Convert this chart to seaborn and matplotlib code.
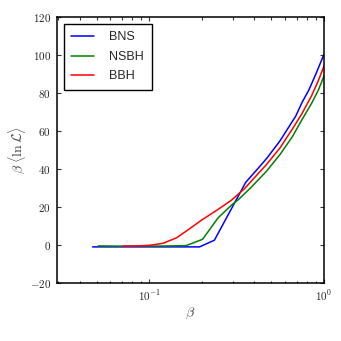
import numpy as np
import pandas as pd
import matplotlib
matplotlib.use("Agg")
import matplotlib.pyplot as plt
import seaborn as sns
from matplotlib.ticker import FixedLocator, FuncFormatter, LogLocator, NullFormatter

# ---- data ----
bns_beta = [0.0474, 0.06, 0.08, 0.10, 0.125, 0.16, 0.194, 0.236, 0.357, 0.42, 0.47, 0.56, 0.69, 0.75, 0.82, 0.90, 1.0]
bns_val = [-1.0, -1.0, -1.0, -1.0, -1.0, -1.0, -1.0, 2.5, 33.0, 40.3, 45.5, 54.7, 67.8, 75.0, 81.5, 90.0, 100.2]

nsbh_beta = [0.0511, 0.07, 0.10, 0.13, 0.163, 0.202, 0.248, 0.296, 0.325, 0.38, 0.466, 0.56, 0.66, 0.75, 0.85, 0.93, 1.0]
nsbh_val = [-0.5, -0.6, -0.6, -0.5, -0.3, 3.0, 14.3, 21.0, 24.0, 30.0, 38.5, 47.5, 57.0, 66.0, 74.5, 81.5, 88.8]

bbh_beta = [0.0705, 0.085, 0.10, 0.12, 0.1436, 0.17, 0.1995, 0.245, 0.296, 0.35, 0.42, 0.466, 0.56, 0.66, 0.75, 0.85, 0.93, 1.0]
bbh_val = [-0.6, -0.5, -0.2, 0.9, 3.8, 8.5, 13.1, 18.4, 23.6, 29.5, 37.5, 42.0, 51.0, 61.0, 69.2, 78.5, 86.5, 94.0]

series_names = ["BNS", "NSBH", "BBH"]
series_colors = ["#0000ff", "#008000", "#ff0000"]
y_ticks = [-20, 0, 20, 40, 60, 80, 100, 120]
x_major = [0.1, 1.0]
x_major_labels = [r"$10^{-1}$", r"$10^{0}$"]

frames = []
for name, b, v in zip(series_names, [bns_beta, nsbh_beta, bbh_beta], [bns_val, nsbh_val, bbh_val]):
    frames.append(pd.DataFrame({"beta": b, "val": v, "run": name}))
df = pd.concat(frames, ignore_index=True)

sns.set_style("white")
plt.rcParams["font.family"] = ["Liberation Sans", "DejaVu Sans"]
plt.rcParams["mathtext.fontset"] = "cm"

fig = plt.figure(figsize=(3.41, 3.41), dpi=100)
ax = fig.add_axes([0.166, 0.170, 0.784, 0.781])

sns.lineplot(data=df, x="beta", y="val", hue="run", hue_order=series_names,
             palette=dict(zip(series_names, series_colors)), estimator=None,
             sort=False, linewidth=1.1, ax=ax)

ax.set_xscale("log")
ax.set_xlim(0.0295, 1.0)
ax.set_ylim(-20, 120)

ax.xaxis.set_major_locator(FixedLocator(x_major))
ax.xaxis.set_major_formatter(FuncFormatter(lambda v, p: x_major_labels[x_major.index(v)] if v in x_major else ""))
ax.xaxis.set_minor_locator(LogLocator(base=10, subs=np.arange(2, 10)))
ax.xaxis.set_minor_formatter(NullFormatter())
ax.yaxis.set_major_locator(FixedLocator(y_ticks))
ax.yaxis.set_major_formatter(FuncFormatter(lambda v, p: r"$%d$" % v))

ax.tick_params(which="both", direction="in", top=True, right=True, bottom=True, left=True,
               color="#333333", width=0.8, labelsize=8, labelcolor="#222222")
ax.tick_params(which="major", length=3.2, pad=4)
ax.tick_params(which="minor", length=1.8)

for s in ax.spines.values():
    s.set_visible(True)
    s.set_color("black")
    s.set_linewidth(1.1)

ax.set_xlabel(r"$\beta$", fontsize=10, color="#444444", labelpad=2)
ax.set_ylabel(r"$\beta\;\langle\ln\mathcal{L}\rangle$", fontsize=10, color="#444444", labelpad=1)

handles, labels = ax.get_legend_handles_labels()
leg = ax.legend(handles, labels, loc="upper left", fontsize=9, frameon=True, fancybox=False,
                edgecolor="black", handlelength=1.8, handletextpad=1.25, borderpad=0.6,
                labelspacing=0.6, borderaxespad=0.58)
leg.get_frame().set_linewidth(1.0)
leg.get_frame().set_alpha(1)

fig.savefig("out.png", dpi=100, facecolor="white")
